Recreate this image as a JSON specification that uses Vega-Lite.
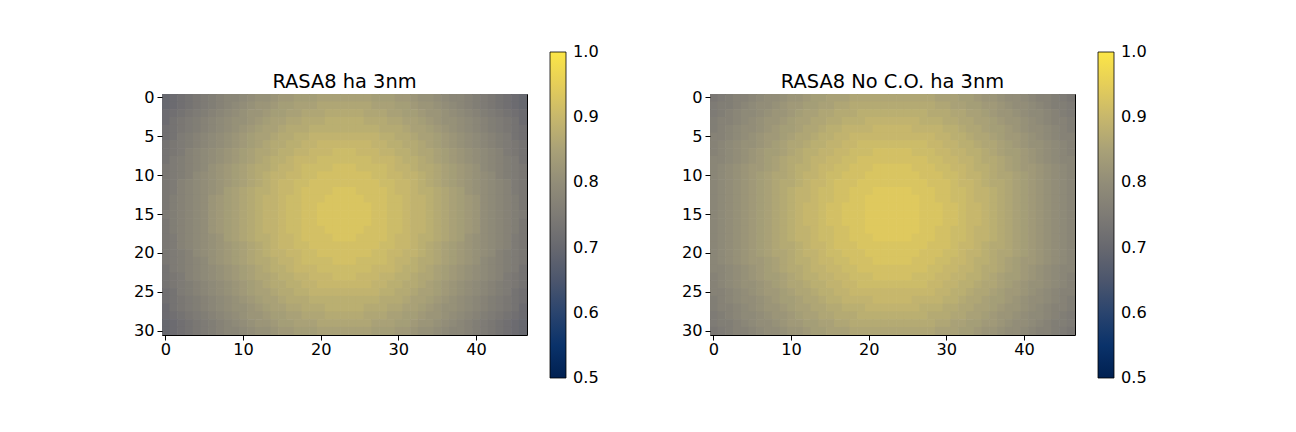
{
  "$schema": "https://vega.github.io/schema/vega-lite/v6.json",
  "background": "white",
  "padding": {"left": 132, "top": 51, "right": 5, "bottom": 5},
  "config": {
    "font": "DejaVu Sans",
    "view": {"stroke": "black", "strokeWidth": 1},
    "axis": {"domain": false, "grid": false, "tickColor": "black", "tickSize": 5, "tickWidth": 1, "labelFont": "DejaVu Sans", "labelFontSize": 16.2, "labelColor": "black", "labelPadding": 3},
    "axisX": {"labelPadding": 1.5},
    "title": {"font": "DejaVu Sans", "fontSize": 19.4, "fontWeight": "normal", "color": "black", "offset": -40},
    "legend": {"labelFont": "DejaVu Sans"}
  },
  "datasets": {
    "rasa8": [
      {"y":0,"x":[0,1,2,3,4,5,6,7,8,9,10,11,12,13,14,15,16,17,18,19,20,21,22,23,24,25,26,27,28,29,30,31,32,33,34,35,36,37,38,39,40,41,42,43,44,45,46],"v":[0.7,0.71,0.72,0.73,0.74,0.75,0.76,0.77,0.78,0.78,0.79,0.8,0.81,0.81,0.82,0.83,0.83,0.84,0.84,0.84,0.85,0.85,0.85,0.85,0.85,0.85,0.85,0.84,0.84,0.84,0.83,0.83,0.82,0.81,0.81,0.8,0.79,0.78,0.78,0.77,0.76,0.75,0.74,0.73,0.72,0.71,0.7]},
      {"y":1,"x":[0,1,2,3,4,5,6,7,8,9,10,11,12,13,14,15,16,17,18,19,20,21,22,23,24,25,26,27,28,29,30,31,32,33,34,35,36,37,38,39,40,41,42,43,44,45,46],"v":[0.7,0.71,0.72,0.73,0.74,0.75,0.76,0.77,0.78,0.79,0.8,0.81,0.82,0.82,0.83,0.84,0.84,0.85,0.85,0.85,0.86,0.86,0.86,0.86,0.86,0.86,0.86,0.85,0.85,0.85,0.84,0.84,0.83,0.82,0.82,0.81,0.8,0.79,0.78,0.77,0.76,0.75,0.74,0.73,0.72,0.71,0.7]},
      {"y":2,"x":[0,1,2,3,4,5,6,7,8,9,10,11,12,13,14,15,16,17,18,19,20,21,22,23,24,25,26,27,28,29,30,31,32,33,34,35,36,37,38,39,40,41,42,43,44,45,46],"v":[0.71,0.72,0.73,0.74,0.75,0.76,0.77,0.78,0.79,0.8,0.81,0.82,0.82,0.83,0.84,0.84,0.85,0.85,0.86,0.86,0.86,0.87,0.87,0.87,0.87,0.87,0.86,0.86,0.86,0.85,0.85,0.84,0.84,0.83,0.82,0.82,0.81,0.8,0.79,0.78,0.77,0.76,0.75,0.74,0.73,0.72,0.71]},
      {"y":3,"x":[0,1,2,3,4,5,6,7,8,9,10,11,12,13,14,15,16,17,18,19,20,21,22,23,24,25,26,27,28,29,30,31,32,33,34,35,36,37,38,39,40,41,42,43,44,45,46],"v":[0.71,0.73,0.74,0.75,0.76,0.77,0.78,0.79,0.8,0.81,0.81,0.82,0.83,0.84,0.85,0.85,0.86,0.86,0.87,0.87,0.87,0.88,0.88,0.88,0.88,0.88,0.87,0.87,0.87,0.86,0.86,0.85,0.85,0.84,0.83,0.82,0.81,0.81,0.8,0.79,0.78,0.77,0.76,0.75,0.74,0.73,0.71]},
      {"y":4,"x":[0,1,2,3,4,5,6,7,8,9,10,11,12,13,14,15,16,17,18,19,20,21,22,23,24,25,26,27,28,29,30,31,32,33,34,35,36,37,38,39,40,41,42,43,44,45,46],"v":[0.72,0.73,0.74,0.75,0.76,0.77,0.78,0.79,0.8,0.81,0.82,0.83,0.84,0.85,0.85,0.86,0.87,0.87,0.87,0.88,0.88,0.88,0.88,0.88,0.88,0.88,0.88,0.88,0.87,0.87,0.87,0.86,0.85,0.85,0.84,0.83,0.82,0.81,0.8,0.79,0.78,0.77,0.76,0.75,0.74,0.73,0.72]},
      {"y":5,"x":[0,1,2,3,4,5,6,7,8,9,10,11,12,13,14,15,16,17,18,19,20,21,22,23,24,25,26,27,28,29,30,31,32,33,34,35,36,37,38,39,40,41,42,43,44,45,46],"v":[0.72,0.73,0.75,0.76,0.77,0.78,0.79,0.8,0.81,0.82,0.83,0.84,0.85,0.85,0.86,0.87,0.87,0.88,0.88,0.89,0.89,0.89,0.89,0.89,0.89,0.89,0.89,0.89,0.88,0.88,0.87,0.87,0.86,0.85,0.85,0.84,0.83,0.82,0.81,0.8,0.79,0.78,0.77,0.76,0.75,0.73,0.72]},
      {"y":6,"x":[0,1,2,3,4,5,6,7,8,9,10,11,12,13,14,15,16,17,18,19,20,21,22,23,24,25,26,27,28,29,30,31,32,33,34,35,36,37,38,39,40,41,42,43,44,45,46],"v":[0.73,0.74,0.75,0.76,0.77,0.78,0.79,0.8,0.81,0.82,0.83,0.84,0.85,0.86,0.87,0.87,0.88,0.88,0.89,0.89,0.9,0.9,0.9,0.9,0.9,0.9,0.9,0.89,0.89,0.88,0.88,0.87,0.87,0.86,0.85,0.84,0.83,0.82,0.81,0.8,0.79,0.78,0.77,0.76,0.75,0.74,0.73]},
      {"y":7,"x":[0,1,2,3,4,5,6,7,8,9,10,11,12,13,14,15,16,17,18,19,20,21,22,23,24,25,26,27,28,29,30,31,32,33,34,35,36,37,38,39,40,41,42,43,44,45,46],"v":[0.73,0.74,0.75,0.77,0.78,0.79,0.8,0.81,0.82,0.83,0.84,0.85,0.86,0.86,0.87,0.88,0.88,0.89,0.89,0.9,0.9,0.9,0.91,0.91,0.91,0.9,0.9,0.9,0.89,0.89,0.88,0.88,0.87,0.86,0.86,0.85,0.84,0.83,0.82,0.81,0.8,0.79,0.78,0.77,0.75,0.74,0.73]},
      {"y":8,"x":[0,1,2,3,4,5,6,7,8,9,10,11,12,13,14,15,16,17,18,19,20,21,22,23,24,25,26,27,28,29,30,31,32,33,34,35,36,37,38,39,40,41,42,43,44,45,46],"v":[0.73,0.75,0.76,0.77,0.78,0.79,0.8,0.81,0.82,0.83,0.84,0.85,0.86,0.87,0.88,0.88,0.89,0.9,0.9,0.9,0.91,0.91,0.91,0.91,0.91,0.91,0.91,0.9,0.9,0.9,0.89,0.88,0.88,0.87,0.86,0.85,0.84,0.83,0.82,0.81,0.8,0.79,0.78,0.77,0.76,0.75,0.73]},
      {"y":9,"x":[0,1,2,3,4,5,6,7,8,9,10,11,12,13,14,15,16,17,18,19,20,21,22,23,24,25,26,27,28,29,30,31,32,33,34,35,36,37,38,39,40,41,42,43,44,45,46],"v":[0.74,0.75,0.76,0.77,0.78,0.79,0.81,0.82,0.83,0.84,0.85,0.86,0.87,0.87,0.88,0.89,0.89,0.9,0.91,0.91,0.91,0.91,0.92,0.92,0.92,0.91,0.91,0.91,0.91,0.9,0.89,0.89,0.88,0.87,0.87,0.86,0.85,0.84,0.83,0.82,0.81,0.79,0.78,0.77,0.76,0.75,0.74]},
      {"y":10,"x":[0,1,2,3,4,5,6,7,8,9,10,11,12,13,14,15,16,17,18,19,20,21,22,23,24,25,26,27,28,29,30,31,32,33,34,35,36,37,38,39,40,41,42,43,44,45,46],"v":[0.74,0.75,0.76,0.77,0.79,0.8,0.81,0.82,0.83,0.84,0.85,0.86,0.87,0.88,0.89,0.89,0.9,0.9,0.91,0.91,0.92,0.92,0.92,0.92,0.92,0.92,0.92,0.91,0.91,0.9,0.9,0.89,0.89,0.88,0.87,0.86,0.85,0.84,0.83,0.82,0.81,0.8,0.79,0.77,0.76,0.75,0.74]},
      {"y":11,"x":[0,1,2,3,4,5,6,7,8,9,10,11,12,13,14,15,16,17,18,19,20,21,22,23,24,25,26,27,28,29,30,31,32,33,34,35,36,37,38,39,40,41,42,43,44,45,46],"v":[0.74,0.75,0.77,0.78,0.79,0.8,0.81,0.82,0.83,0.84,0.85,0.86,0.87,0.88,0.89,0.9,0.9,0.91,0.91,0.92,0.92,0.92,0.92,0.92,0.92,0.92,0.92,0.92,0.91,0.91,0.9,0.9,0.89,0.88,0.87,0.86,0.85,0.84,0.83,0.82,0.81,0.8,0.79,0.78,0.77,0.75,0.74]},
      {"y":12,"x":[0,1,2,3,4,5,6,7,8,9,10,11,12,13,14,15,16,17,18,19,20,21,22,23,24,25,26,27,28,29,30,31,32,33,34,35,36,37,38,39,40,41,42,43,44,45,46],"v":[0.74,0.75,0.77,0.78,0.79,0.8,0.81,0.82,0.84,0.85,0.86,0.87,0.88,0.88,0.89,0.9,0.9,0.91,0.92,0.92,0.92,0.92,0.93,0.93,0.93,0.92,0.92,0.92,0.92,0.91,0.9,0.9,0.89,0.88,0.88,0.87,0.86,0.85,0.84,0.82,0.81,0.8,0.79,0.78,0.77,0.75,0.74]},
      {"y":13,"x":[0,1,2,3,4,5,6,7,8,9,10,11,12,13,14,15,16,17,18,19,20,21,22,23,24,25,26,27,28,29,30,31,32,33,34,35,36,37,38,39,40,41,42,43,44,45,46],"v":[0.74,0.76,0.77,0.78,0.79,0.8,0.82,0.83,0.84,0.85,0.86,0.87,0.88,0.89,0.89,0.9,0.91,0.91,0.92,0.92,0.92,0.93,0.93,0.93,0.93,0.93,0.92,0.92,0.92,0.91,0.91,0.9,0.89,0.89,0.88,0.87,0.86,0.85,0.84,0.83,0.82,0.8,0.79,0.78,0.77,0.76,0.74]},
      {"y":14,"x":[0,1,2,3,4,5,6,7,8,9,10,11,12,13,14,15,16,17,18,19,20,21,22,23,24,25,26,27,28,29,30,31,32,33,34,35,36,37,38,39,40,41,42,43,44,45,46],"v":[0.74,0.76,0.77,0.78,0.79,0.8,0.82,0.83,0.84,0.85,0.86,0.87,0.88,0.89,0.89,0.9,0.91,0.91,0.92,0.92,0.93,0.93,0.93,0.93,0.93,0.93,0.93,0.92,0.92,0.91,0.91,0.9,0.89,0.89,0.88,0.87,0.86,0.85,0.84,0.83,0.82,0.8,0.79,0.78,0.77,0.76,0.74]},
      {"y":15,"x":[0,1,2,3,4,5,6,7,8,9,10,11,12,13,14,15,16,17,18,19,20,21,22,23,24,25,26,27,28,29,30,31,32,33,34,35,36,37,38,39,40,41,42,43,44,45,46],"v":[0.75,0.76,0.77,0.78,0.79,0.8,0.82,0.83,0.84,0.85,0.86,0.87,0.88,0.89,0.89,0.9,0.91,0.91,0.92,0.92,0.93,0.93,0.93,0.93,0.93,0.93,0.93,0.92,0.92,0.91,0.91,0.9,0.89,0.89,0.88,0.87,0.86,0.85,0.84,0.83,0.82,0.8,0.79,0.78,0.77,0.76,0.75]},
      {"y":16,"x":[0,1,2,3,4,5,6,7,8,9,10,11,12,13,14,15,16,17,18,19,20,21,22,23,24,25,26,27,28,29,30,31,32,33,34,35,36,37,38,39,40,41,42,43,44,45,46],"v":[0.74,0.76,0.77,0.78,0.79,0.8,0.82,0.83,0.84,0.85,0.86,0.87,0.88,0.89,0.89,0.9,0.91,0.91,0.92,0.92,0.93,0.93,0.93,0.93,0.93,0.93,0.93,0.92,0.92,0.91,0.91,0.9,0.89,0.89,0.88,0.87,0.86,0.85,0.84,0.83,0.82,0.8,0.79,0.78,0.77,0.76,0.74]},
      {"y":17,"x":[0,1,2,3,4,5,6,7,8,9,10,11,12,13,14,15,16,17,18,19,20,21,22,23,24,25,26,27,28,29,30,31,32,33,34,35,36,37,38,39,40,41,42,43,44,45,46],"v":[0.74,0.76,0.77,0.78,0.79,0.8,0.82,0.83,0.84,0.85,0.86,0.87,0.88,0.89,0.89,0.9,0.91,0.91,0.92,0.92,0.92,0.93,0.93,0.93,0.93,0.93,0.92,0.92,0.92,0.91,0.91,0.9,0.89,0.89,0.88,0.87,0.86,0.85,0.84,0.83,0.82,0.8,0.79,0.78,0.77,0.76,0.74]},
      {"y":18,"x":[0,1,2,3,4,5,6,7,8,9,10,11,12,13,14,15,16,17,18,19,20,21,22,23,24,25,26,27,28,29,30,31,32,33,34,35,36,37,38,39,40,41,42,43,44,45,46],"v":[0.74,0.75,0.77,0.78,0.79,0.8,0.81,0.82,0.84,0.85,0.86,0.87,0.88,0.88,0.89,0.9,0.9,0.91,0.92,0.92,0.92,0.92,0.93,0.93,0.93,0.92,0.92,0.92,0.92,0.91,0.9,0.9,0.89,0.88,0.88,0.87,0.86,0.85,0.84,0.82,0.81,0.8,0.79,0.78,0.77,0.75,0.74]},
      {"y":19,"x":[0,1,2,3,4,5,6,7,8,9,10,11,12,13,14,15,16,17,18,19,20,21,22,23,24,25,26,27,28,29,30,31,32,33,34,35,36,37,38,39,40,41,42,43,44,45,46],"v":[0.74,0.75,0.77,0.78,0.79,0.8,0.81,0.82,0.83,0.84,0.85,0.86,0.87,0.88,0.89,0.9,0.9,0.91,0.91,0.92,0.92,0.92,0.92,0.92,0.92,0.92,0.92,0.92,0.91,0.91,0.9,0.9,0.89,0.88,0.87,0.86,0.85,0.84,0.83,0.82,0.81,0.8,0.79,0.78,0.77,0.75,0.74]},
      {"y":20,"x":[0,1,2,3,4,5,6,7,8,9,10,11,12,13,14,15,16,17,18,19,20,21,22,23,24,25,26,27,28,29,30,31,32,33,34,35,36,37,38,39,40,41,42,43,44,45,46],"v":[0.74,0.75,0.76,0.77,0.79,0.8,0.81,0.82,0.83,0.84,0.85,0.86,0.87,0.88,0.89,0.89,0.9,0.9,0.91,0.91,0.92,0.92,0.92,0.92,0.92,0.92,0.92,0.91,0.91,0.9,0.9,0.89,0.89,0.88,0.87,0.86,0.85,0.84,0.83,0.82,0.81,0.8,0.79,0.77,0.76,0.75,0.74]},
      {"y":21,"x":[0,1,2,3,4,5,6,7,8,9,10,11,12,13,14,15,16,17,18,19,20,21,22,23,24,25,26,27,28,29,30,31,32,33,34,35,36,37,38,39,40,41,42,43,44,45,46],"v":[0.74,0.75,0.76,0.77,0.78,0.79,0.81,0.82,0.83,0.84,0.85,0.86,0.87,0.87,0.88,0.89,0.89,0.9,0.91,0.91,0.91,0.91,0.92,0.92,0.92,0.91,0.91,0.91,0.91,0.9,0.89,0.89,0.88,0.87,0.87,0.86,0.85,0.84,0.83,0.82,0.81,0.79,0.78,0.77,0.76,0.75,0.74]},
      {"y":22,"x":[0,1,2,3,4,5,6,7,8,9,10,11,12,13,14,15,16,17,18,19,20,21,22,23,24,25,26,27,28,29,30,31,32,33,34,35,36,37,38,39,40,41,42,43,44,45,46],"v":[0.73,0.75,0.76,0.77,0.78,0.79,0.8,0.81,0.82,0.83,0.84,0.85,0.86,0.87,0.88,0.88,0.89,0.9,0.9,0.9,0.91,0.91,0.91,0.91,0.91,0.91,0.91,0.9,0.9,0.9,0.89,0.88,0.88,0.87,0.86,0.85,0.84,0.83,0.82,0.81,0.8,0.79,0.78,0.77,0.76,0.75,0.73]},
      {"y":23,"x":[0,1,2,3,4,5,6,7,8,9,10,11,12,13,14,15,16,17,18,19,20,21,22,23,24,25,26,27,28,29,30,31,32,33,34,35,36,37,38,39,40,41,42,43,44,45,46],"v":[0.73,0.74,0.75,0.77,0.78,0.79,0.8,0.81,0.82,0.83,0.84,0.85,0.86,0.86,0.87,0.88,0.88,0.89,0.89,0.9,0.9,0.9,0.91,0.91,0.91,0.9,0.9,0.9,0.89,0.89,0.88,0.88,0.87,0.86,0.86,0.85,0.84,0.83,0.82,0.81,0.8,0.79,0.78,0.77,0.75,0.74,0.73]},
      {"y":24,"x":[0,1,2,3,4,5,6,7,8,9,10,11,12,13,14,15,16,17,18,19,20,21,22,23,24,25,26,27,28,29,30,31,32,33,34,35,36,37,38,39,40,41,42,43,44,45,46],"v":[0.73,0.74,0.75,0.76,0.77,0.78,0.79,0.8,0.81,0.82,0.83,0.84,0.85,0.86,0.87,0.87,0.88,0.88,0.89,0.89,0.9,0.9,0.9,0.9,0.9,0.9,0.9,0.89,0.89,0.88,0.88,0.87,0.87,0.86,0.85,0.84,0.83,0.82,0.81,0.8,0.79,0.78,0.77,0.76,0.75,0.74,0.73]},
      {"y":25,"x":[0,1,2,3,4,5,6,7,8,9,10,11,12,13,14,15,16,17,18,19,20,21,22,23,24,25,26,27,28,29,30,31,32,33,34,35,36,37,38,39,40,41,42,43,44,45,46],"v":[0.72,0.73,0.75,0.76,0.77,0.78,0.79,0.8,0.81,0.82,0.83,0.84,0.85,0.85,0.86,0.87,0.87,0.88,0.88,0.89,0.89,0.89,0.89,0.89,0.89,0.89,0.89,0.89,0.88,0.88,0.87,0.87,0.86,0.85,0.85,0.84,0.83,0.82,0.81,0.8,0.79,0.78,0.77,0.76,0.75,0.73,0.72]},
      {"y":26,"x":[0,1,2,3,4,5,6,7,8,9,10,11,12,13,14,15,16,17,18,19,20,21,22,23,24,25,26,27,28,29,30,31,32,33,34,35,36,37,38,39,40,41,42,43,44,45,46],"v":[0.72,0.73,0.74,0.75,0.76,0.77,0.78,0.79,0.8,0.81,0.82,0.83,0.84,0.85,0.85,0.86,0.87,0.87,0.87,0.88,0.88,0.88,0.88,0.88,0.88,0.88,0.88,0.88,0.87,0.87,0.87,0.86,0.85,0.85,0.84,0.83,0.82,0.81,0.8,0.79,0.78,0.77,0.76,0.75,0.74,0.73,0.72]},
      {"y":27,"x":[0,1,2,3,4,5,6,7,8,9,10,11,12,13,14,15,16,17,18,19,20,21,22,23,24,25,26,27,28,29,30,31,32,33,34,35,36,37,38,39,40,41,42,43,44,45,46],"v":[0.71,0.73,0.74,0.75,0.76,0.77,0.78,0.79,0.8,0.81,0.81,0.82,0.83,0.84,0.85,0.85,0.86,0.86,0.87,0.87,0.87,0.88,0.88,0.88,0.88,0.88,0.87,0.87,0.87,0.86,0.86,0.85,0.85,0.84,0.83,0.82,0.81,0.81,0.8,0.79,0.78,0.77,0.76,0.75,0.74,0.73,0.71]},
      {"y":28,"x":[0,1,2,3,4,5,6,7,8,9,10,11,12,13,14,15,16,17,18,19,20,21,22,23,24,25,26,27,28,29,30,31,32,33,34,35,36,37,38,39,40,41,42,43,44,45,46],"v":[0.71,0.72,0.73,0.74,0.75,0.76,0.77,0.78,0.79,0.8,0.81,0.82,0.82,0.83,0.84,0.84,0.85,0.85,0.86,0.86,0.86,0.87,0.87,0.87,0.87,0.87,0.86,0.86,0.86,0.85,0.85,0.84,0.84,0.83,0.82,0.82,0.81,0.8,0.79,0.78,0.77,0.76,0.75,0.74,0.73,0.72,0.71]},
      {"y":29,"x":[0,1,2,3,4,5,6,7,8,9,10,11,12,13,14,15,16,17,18,19,20,21,22,23,24,25,26,27,28,29,30,31,32,33,34,35,36,37,38,39,40,41,42,43,44,45,46],"v":[0.7,0.71,0.72,0.73,0.74,0.75,0.76,0.77,0.78,0.79,0.8,0.81,0.82,0.82,0.83,0.84,0.84,0.85,0.85,0.85,0.86,0.86,0.86,0.86,0.86,0.86,0.86,0.85,0.85,0.85,0.84,0.84,0.83,0.82,0.82,0.81,0.8,0.79,0.78,0.77,0.76,0.75,0.74,0.73,0.72,0.71,0.7]},
      {"y":30,"x":[0,1,2,3,4,5,6,7,8,9,10,11,12,13,14,15,16,17,18,19,20,21,22,23,24,25,26,27,28,29,30,31,32,33,34,35,36,37,38,39,40,41,42,43,44,45,46],"v":[0.7,0.71,0.72,0.73,0.74,0.75,0.76,0.77,0.78,0.78,0.79,0.8,0.81,0.81,0.82,0.83,0.83,0.84,0.84,0.84,0.85,0.85,0.85,0.85,0.85,0.85,0.85,0.84,0.84,0.84,0.83,0.83,0.82,0.81,0.81,0.8,0.79,0.78,0.78,0.77,0.76,0.75,0.74,0.73,0.72,0.71,0.7]}
    ],
    "rasa8_noco": [
      {"y":0,"x":[0,1,2,3,4,5,6,7,8,9,10,11,12,13,14,15,16,17,18,19,20,21,22,23,24,25,26,27,28,29,30,31,32,33,34,35,36,37,38,39,40,41,42,43,44,45,46],"v":[0.74,0.75,0.76,0.77,0.77,0.78,0.79,0.8,0.8,0.81,0.82,0.82,0.83,0.84,0.84,0.85,0.85,0.85,0.86,0.86,0.86,0.86,0.86,0.86,0.86,0.86,0.86,0.86,0.86,0.85,0.85,0.85,0.84,0.84,0.83,0.82,0.82,0.81,0.8,0.8,0.79,0.78,0.77,0.77,0.76,0.75,0.74]},
      {"y":1,"x":[0,1,2,3,4,5,6,7,8,9,10,11,12,13,14,15,16,17,18,19,20,21,22,23,24,25,26,27,28,29,30,31,32,33,34,35,36,37,38,39,40,41,42,43,44,45,46],"v":[0.75,0.76,0.76,0.77,0.78,0.79,0.8,0.8,0.81,0.82,0.83,0.83,0.84,0.84,0.85,0.85,0.86,0.86,0.87,0.87,0.87,0.87,0.87,0.87,0.87,0.87,0.87,0.87,0.87,0.86,0.86,0.85,0.85,0.84,0.84,0.83,0.83,0.82,0.81,0.8,0.8,0.79,0.78,0.77,0.76,0.76,0.75]},
      {"y":2,"x":[0,1,2,3,4,5,6,7,8,9,10,11,12,13,14,15,16,17,18,19,20,21,22,23,24,25,26,27,28,29,30,31,32,33,34,35,36,37,38,39,40,41,42,43,44,45,46],"v":[0.75,0.76,0.77,0.78,0.79,0.79,0.8,0.81,0.82,0.82,0.83,0.84,0.85,0.85,0.86,0.86,0.87,0.87,0.87,0.88,0.88,0.88,0.88,0.88,0.88,0.88,0.88,0.88,0.87,0.87,0.87,0.86,0.86,0.85,0.85,0.84,0.83,0.82,0.82,0.81,0.8,0.79,0.79,0.78,0.77,0.76,0.75]},
      {"y":3,"x":[0,1,2,3,4,5,6,7,8,9,10,11,12,13,14,15,16,17,18,19,20,21,22,23,24,25,26,27,28,29,30,31,32,33,34,35,36,37,38,39,40,41,42,43,44,45,46],"v":[0.76,0.77,0.77,0.78,0.79,0.8,0.81,0.82,0.82,0.83,0.84,0.85,0.85,0.86,0.86,0.87,0.87,0.88,0.88,0.88,0.89,0.89,0.89,0.89,0.89,0.89,0.89,0.88,0.88,0.88,0.87,0.87,0.86,0.86,0.85,0.85,0.84,0.83,0.82,0.82,0.81,0.8,0.79,0.78,0.77,0.77,0.76]},
      {"y":4,"x":[0,1,2,3,4,5,6,7,8,9,10,11,12,13,14,15,16,17,18,19,20,21,22,23,24,25,26,27,28,29,30,31,32,33,34,35,36,37,38,39,40,41,42,43,44,45,46],"v":[0.76,0.77,0.78,0.79,0.8,0.8,0.81,0.82,0.83,0.84,0.84,0.85,0.86,0.86,0.87,0.88,0.88,0.89,0.89,0.89,0.89,0.9,0.9,0.9,0.9,0.9,0.89,0.89,0.89,0.89,0.88,0.88,0.87,0.86,0.86,0.85,0.84,0.84,0.83,0.82,0.81,0.8,0.8,0.79,0.78,0.77,0.76]},
      {"y":5,"x":[0,1,2,3,4,5,6,7,8,9,10,11,12,13,14,15,16,17,18,19,20,21,22,23,24,25,26,27,28,29,30,31,32,33,34,35,36,37,38,39,40,41,42,43,44,45,46],"v":[0.77,0.77,0.78,0.79,0.8,0.81,0.82,0.83,0.83,0.84,0.85,0.86,0.86,0.87,0.88,0.88,0.89,0.89,0.9,0.9,0.9,0.9,0.9,0.9,0.9,0.9,0.9,0.9,0.9,0.89,0.89,0.88,0.88,0.87,0.86,0.86,0.85,0.84,0.83,0.83,0.82,0.81,0.8,0.79,0.78,0.77,0.77]},
      {"y":6,"x":[0,1,2,3,4,5,6,7,8,9,10,11,12,13,14,15,16,17,18,19,20,21,22,23,24,25,26,27,28,29,30,31,32,33,34,35,36,37,38,39,40,41,42,43,44,45,46],"v":[0.77,0.78,0.79,0.8,0.81,0.81,0.82,0.83,0.84,0.85,0.86,0.86,0.87,0.88,0.88,0.89,0.89,0.9,0.9,0.91,0.91,0.91,0.91,0.91,0.91,0.91,0.91,0.91,0.9,0.9,0.89,0.89,0.88,0.88,0.87,0.86,0.86,0.85,0.84,0.83,0.82,0.81,0.81,0.8,0.79,0.78,0.77]},
      {"y":7,"x":[0,1,2,3,4,5,6,7,8,9,10,11,12,13,14,15,16,17,18,19,20,21,22,23,24,25,26,27,28,29,30,31,32,33,34,35,36,37,38,39,40,41,42,43,44,45,46],"v":[0.77,0.78,0.79,0.8,0.81,0.82,0.83,0.84,0.84,0.85,0.86,0.87,0.88,0.88,0.89,0.89,0.9,0.9,0.91,0.91,0.91,0.92,0.92,0.92,0.92,0.92,0.91,0.91,0.91,0.9,0.9,0.89,0.89,0.88,0.88,0.87,0.86,0.85,0.84,0.84,0.83,0.82,0.81,0.8,0.79,0.78,0.77]},
      {"y":8,"x":[0,1,2,3,4,5,6,7,8,9,10,11,12,13,14,15,16,17,18,19,20,21,22,23,24,25,26,27,28,29,30,31,32,33,34,35,36,37,38,39,40,41,42,43,44,45,46],"v":[0.78,0.78,0.79,0.8,0.81,0.82,0.83,0.84,0.85,0.86,0.87,0.87,0.88,0.89,0.89,0.9,0.9,0.91,0.91,0.92,0.92,0.92,0.92,0.92,0.92,0.92,0.92,0.92,0.91,0.91,0.9,0.9,0.89,0.89,0.88,0.87,0.87,0.86,0.85,0.84,0.83,0.82,0.81,0.8,0.79,0.78,0.78]},
      {"y":9,"x":[0,1,2,3,4,5,6,7,8,9,10,11,12,13,14,15,16,17,18,19,20,21,22,23,24,25,26,27,28,29,30,31,32,33,34,35,36,37,38,39,40,41,42,43,44,45,46],"v":[0.78,0.79,0.8,0.81,0.82,0.83,0.83,0.84,0.85,0.86,0.87,0.88,0.88,0.89,0.9,0.9,0.91,0.91,0.92,0.92,0.92,0.93,0.93,0.93,0.93,0.93,0.92,0.92,0.92,0.91,0.91,0.9,0.9,0.89,0.88,0.88,0.87,0.86,0.85,0.84,0.83,0.83,0.82,0.81,0.8,0.79,0.78]},
      {"y":10,"x":[0,1,2,3,4,5,6,7,8,9,10,11,12,13,14,15,16,17,18,19,20,21,22,23,24,25,26,27,28,29,30,31,32,33,34,35,36,37,38,39,40,41,42,43,44,45,46],"v":[0.78,0.79,0.8,0.81,0.82,0.83,0.84,0.85,0.86,0.86,0.87,0.88,0.89,0.89,0.9,0.91,0.91,0.92,0.92,0.92,0.93,0.93,0.93,0.93,0.93,0.93,0.93,0.92,0.92,0.92,0.91,0.91,0.9,0.89,0.89,0.88,0.87,0.86,0.86,0.85,0.84,0.83,0.82,0.81,0.8,0.79,0.78]},
      {"y":11,"x":[0,1,2,3,4,5,6,7,8,9,10,11,12,13,14,15,16,17,18,19,20,21,22,23,24,25,26,27,28,29,30,31,32,33,34,35,36,37,38,39,40,41,42,43,44,45,46],"v":[0.78,0.79,0.8,0.81,0.82,0.83,0.84,0.85,0.86,0.87,0.87,0.88,0.89,0.9,0.9,0.91,0.92,0.92,0.92,0.93,0.93,0.93,0.93,0.93,0.93,0.93,0.93,0.93,0.92,0.92,0.92,0.91,0.9,0.9,0.89,0.88,0.87,0.87,0.86,0.85,0.84,0.83,0.82,0.81,0.8,0.79,0.78]},
      {"y":12,"x":[0,1,2,3,4,5,6,7,8,9,10,11,12,13,14,15,16,17,18,19,20,21,22,23,24,25,26,27,28,29,30,31,32,33,34,35,36,37,38,39,40,41,42,43,44,45,46],"v":[0.78,0.79,0.8,0.81,0.82,0.83,0.84,0.85,0.86,0.87,0.88,0.89,0.89,0.9,0.91,0.91,0.92,0.92,0.93,0.93,0.93,0.94,0.94,0.94,0.94,0.94,0.93,0.93,0.93,0.92,0.92,0.91,0.91,0.9,0.89,0.89,0.88,0.87,0.86,0.85,0.84,0.83,0.82,0.81,0.8,0.79,0.78]},
      {"y":13,"x":[0,1,2,3,4,5,6,7,8,9,10,11,12,13,14,15,16,17,18,19,20,21,22,23,24,25,26,27,28,29,30,31,32,33,34,35,36,37,38,39,40,41,42,43,44,45,46],"v":[0.78,0.79,0.8,0.81,0.82,0.83,0.84,0.85,0.86,0.87,0.88,0.89,0.89,0.9,0.91,0.91,0.92,0.92,0.93,0.93,0.94,0.94,0.94,0.94,0.94,0.94,0.94,0.93,0.93,0.92,0.92,0.91,0.91,0.9,0.89,0.89,0.88,0.87,0.86,0.85,0.84,0.83,0.82,0.81,0.8,0.79,0.78]},
      {"y":14,"x":[0,1,2,3,4,5,6,7,8,9,10,11,12,13,14,15,16,17,18,19,20,21,22,23,24,25,26,27,28,29,30,31,32,33,34,35,36,37,38,39,40,41,42,43,44,45,46],"v":[0.78,0.79,0.8,0.81,0.82,0.83,0.84,0.85,0.86,0.87,0.88,0.89,0.9,0.9,0.91,0.92,0.92,0.93,0.93,0.93,0.94,0.94,0.94,0.94,0.94,0.94,0.94,0.93,0.93,0.93,0.92,0.92,0.91,0.9,0.9,0.89,0.88,0.87,0.86,0.85,0.84,0.83,0.82,0.81,0.8,0.79,0.78]},
      {"y":15,"x":[0,1,2,3,4,5,6,7,8,9,10,11,12,13,14,15,16,17,18,19,20,21,22,23,24,25,26,27,28,29,30,31,32,33,34,35,36,37,38,39,40,41,42,43,44,45,46],"v":[0.78,0.79,0.8,0.81,0.82,0.83,0.84,0.85,0.86,0.87,0.88,0.89,0.9,0.9,0.91,0.92,0.92,0.93,0.93,0.93,0.94,0.94,0.94,0.94,0.94,0.94,0.94,0.93,0.93,0.93,0.92,0.92,0.91,0.9,0.9,0.89,0.88,0.87,0.86,0.85,0.84,0.83,0.82,0.81,0.8,0.79,0.78]},
      {"y":16,"x":[0,1,2,3,4,5,6,7,8,9,10,11,12,13,14,15,16,17,18,19,20,21,22,23,24,25,26,27,28,29,30,31,32,33,34,35,36,37,38,39,40,41,42,43,44,45,46],"v":[0.78,0.79,0.8,0.81,0.82,0.83,0.84,0.85,0.86,0.87,0.88,0.89,0.9,0.9,0.91,0.92,0.92,0.93,0.93,0.93,0.94,0.94,0.94,0.94,0.94,0.94,0.94,0.93,0.93,0.93,0.92,0.92,0.91,0.9,0.9,0.89,0.88,0.87,0.86,0.85,0.84,0.83,0.82,0.81,0.8,0.79,0.78]},
      {"y":17,"x":[0,1,2,3,4,5,6,7,8,9,10,11,12,13,14,15,16,17,18,19,20,21,22,23,24,25,26,27,28,29,30,31,32,33,34,35,36,37,38,39,40,41,42,43,44,45,46],"v":[0.78,0.79,0.8,0.81,0.82,0.83,0.84,0.85,0.86,0.87,0.88,0.89,0.89,0.9,0.91,0.91,0.92,0.92,0.93,0.93,0.94,0.94,0.94,0.94,0.94,0.94,0.94,0.93,0.93,0.92,0.92,0.91,0.91,0.9,0.89,0.89,0.88,0.87,0.86,0.85,0.84,0.83,0.82,0.81,0.8,0.79,0.78]},
      {"y":18,"x":[0,1,2,3,4,5,6,7,8,9,10,11,12,13,14,15,16,17,18,19,20,21,22,23,24,25,26,27,28,29,30,31,32,33,34,35,36,37,38,39,40,41,42,43,44,45,46],"v":[0.78,0.79,0.8,0.81,0.82,0.83,0.84,0.85,0.86,0.87,0.88,0.89,0.89,0.9,0.91,0.91,0.92,0.92,0.93,0.93,0.93,0.94,0.94,0.94,0.94,0.94,0.93,0.93,0.93,0.92,0.92,0.91,0.91,0.9,0.89,0.89,0.88,0.87,0.86,0.85,0.84,0.83,0.82,0.81,0.8,0.79,0.78]},
      {"y":19,"x":[0,1,2,3,4,5,6,7,8,9,10,11,12,13,14,15,16,17,18,19,20,21,22,23,24,25,26,27,28,29,30,31,32,33,34,35,36,37,38,39,40,41,42,43,44,45,46],"v":[0.78,0.79,0.8,0.81,0.82,0.83,0.84,0.85,0.86,0.87,0.87,0.88,0.89,0.9,0.9,0.91,0.92,0.92,0.92,0.93,0.93,0.93,0.93,0.93,0.93,0.93,0.93,0.93,0.92,0.92,0.92,0.91,0.9,0.9,0.89,0.88,0.87,0.87,0.86,0.85,0.84,0.83,0.82,0.81,0.8,0.79,0.78]},
      {"y":20,"x":[0,1,2,3,4,5,6,7,8,9,10,11,12,13,14,15,16,17,18,19,20,21,22,23,24,25,26,27,28,29,30,31,32,33,34,35,36,37,38,39,40,41,42,43,44,45,46],"v":[0.78,0.79,0.8,0.81,0.82,0.83,0.84,0.85,0.86,0.86,0.87,0.88,0.89,0.89,0.9,0.91,0.91,0.92,0.92,0.92,0.93,0.93,0.93,0.93,0.93,0.93,0.93,0.92,0.92,0.92,0.91,0.91,0.9,0.89,0.89,0.88,0.87,0.86,0.86,0.85,0.84,0.83,0.82,0.81,0.8,0.79,0.78]},
      {"y":21,"x":[0,1,2,3,4,5,6,7,8,9,10,11,12,13,14,15,16,17,18,19,20,21,22,23,24,25,26,27,28,29,30,31,32,33,34,35,36,37,38,39,40,41,42,43,44,45,46],"v":[0.78,0.79,0.8,0.81,0.82,0.83,0.83,0.84,0.85,0.86,0.87,0.88,0.88,0.89,0.9,0.9,0.91,0.91,0.92,0.92,0.92,0.93,0.93,0.93,0.93,0.93,0.92,0.92,0.92,0.91,0.91,0.9,0.9,0.89,0.88,0.88,0.87,0.86,0.85,0.84,0.83,0.83,0.82,0.81,0.8,0.79,0.78]},
      {"y":22,"x":[0,1,2,3,4,5,6,7,8,9,10,11,12,13,14,15,16,17,18,19,20,21,22,23,24,25,26,27,28,29,30,31,32,33,34,35,36,37,38,39,40,41,42,43,44,45,46],"v":[0.78,0.78,0.79,0.8,0.81,0.82,0.83,0.84,0.85,0.86,0.87,0.87,0.88,0.89,0.89,0.9,0.9,0.91,0.91,0.92,0.92,0.92,0.92,0.92,0.92,0.92,0.92,0.92,0.91,0.91,0.9,0.9,0.89,0.89,0.88,0.87,0.87,0.86,0.85,0.84,0.83,0.82,0.81,0.8,0.79,0.78,0.78]},
      {"y":23,"x":[0,1,2,3,4,5,6,7,8,9,10,11,12,13,14,15,16,17,18,19,20,21,22,23,24,25,26,27,28,29,30,31,32,33,34,35,36,37,38,39,40,41,42,43,44,45,46],"v":[0.77,0.78,0.79,0.8,0.81,0.82,0.83,0.84,0.84,0.85,0.86,0.87,0.88,0.88,0.89,0.89,0.9,0.9,0.91,0.91,0.91,0.92,0.92,0.92,0.92,0.92,0.91,0.91,0.91,0.9,0.9,0.89,0.89,0.88,0.88,0.87,0.86,0.85,0.84,0.84,0.83,0.82,0.81,0.8,0.79,0.78,0.77]},
      {"y":24,"x":[0,1,2,3,4,5,6,7,8,9,10,11,12,13,14,15,16,17,18,19,20,21,22,23,24,25,26,27,28,29,30,31,32,33,34,35,36,37,38,39,40,41,42,43,44,45,46],"v":[0.77,0.78,0.79,0.8,0.81,0.81,0.82,0.83,0.84,0.85,0.86,0.86,0.87,0.88,0.88,0.89,0.89,0.9,0.9,0.91,0.91,0.91,0.91,0.91,0.91,0.91,0.91,0.91,0.9,0.9,0.89,0.89,0.88,0.88,0.87,0.86,0.86,0.85,0.84,0.83,0.82,0.81,0.81,0.8,0.79,0.78,0.77]},
      {"y":25,"x":[0,1,2,3,4,5,6,7,8,9,10,11,12,13,14,15,16,17,18,19,20,21,22,23,24,25,26,27,28,29,30,31,32,33,34,35,36,37,38,39,40,41,42,43,44,45,46],"v":[0.77,0.77,0.78,0.79,0.8,0.81,0.82,0.83,0.83,0.84,0.85,0.86,0.86,0.87,0.88,0.88,0.89,0.89,0.9,0.9,0.9,0.9,0.9,0.9,0.9,0.9,0.9,0.9,0.9,0.89,0.89,0.88,0.88,0.87,0.86,0.86,0.85,0.84,0.83,0.83,0.82,0.81,0.8,0.79,0.78,0.77,0.77]},
      {"y":26,"x":[0,1,2,3,4,5,6,7,8,9,10,11,12,13,14,15,16,17,18,19,20,21,22,23,24,25,26,27,28,29,30,31,32,33,34,35,36,37,38,39,40,41,42,43,44,45,46],"v":[0.76,0.77,0.78,0.79,0.8,0.8,0.81,0.82,0.83,0.84,0.84,0.85,0.86,0.86,0.87,0.88,0.88,0.89,0.89,0.89,0.89,0.9,0.9,0.9,0.9,0.9,0.89,0.89,0.89,0.89,0.88,0.88,0.87,0.86,0.86,0.85,0.84,0.84,0.83,0.82,0.81,0.8,0.8,0.79,0.78,0.77,0.76]},
      {"y":27,"x":[0,1,2,3,4,5,6,7,8,9,10,11,12,13,14,15,16,17,18,19,20,21,22,23,24,25,26,27,28,29,30,31,32,33,34,35,36,37,38,39,40,41,42,43,44,45,46],"v":[0.76,0.77,0.77,0.78,0.79,0.8,0.81,0.82,0.82,0.83,0.84,0.85,0.85,0.86,0.86,0.87,0.87,0.88,0.88,0.88,0.89,0.89,0.89,0.89,0.89,0.89,0.89,0.88,0.88,0.88,0.87,0.87,0.86,0.86,0.85,0.85,0.84,0.83,0.82,0.82,0.81,0.8,0.79,0.78,0.77,0.77,0.76]},
      {"y":28,"x":[0,1,2,3,4,5,6,7,8,9,10,11,12,13,14,15,16,17,18,19,20,21,22,23,24,25,26,27,28,29,30,31,32,33,34,35,36,37,38,39,40,41,42,43,44,45,46],"v":[0.75,0.76,0.77,0.78,0.79,0.79,0.8,0.81,0.82,0.82,0.83,0.84,0.85,0.85,0.86,0.86,0.87,0.87,0.87,0.88,0.88,0.88,0.88,0.88,0.88,0.88,0.88,0.88,0.87,0.87,0.87,0.86,0.86,0.85,0.85,0.84,0.83,0.82,0.82,0.81,0.8,0.79,0.79,0.78,0.77,0.76,0.75]},
      {"y":29,"x":[0,1,2,3,4,5,6,7,8,9,10,11,12,13,14,15,16,17,18,19,20,21,22,23,24,25,26,27,28,29,30,31,32,33,34,35,36,37,38,39,40,41,42,43,44,45,46],"v":[0.75,0.76,0.76,0.77,0.78,0.79,0.8,0.8,0.81,0.82,0.83,0.83,0.84,0.84,0.85,0.85,0.86,0.86,0.87,0.87,0.87,0.87,0.87,0.87,0.87,0.87,0.87,0.87,0.87,0.86,0.86,0.85,0.85,0.84,0.84,0.83,0.83,0.82,0.81,0.8,0.8,0.79,0.78,0.77,0.76,0.76,0.75]},
      {"y":30,"x":[0,1,2,3,4,5,6,7,8,9,10,11,12,13,14,15,16,17,18,19,20,21,22,23,24,25,26,27,28,29,30,31,32,33,34,35,36,37,38,39,40,41,42,43,44,45,46],"v":[0.74,0.75,0.76,0.77,0.77,0.78,0.79,0.8,0.8,0.81,0.82,0.82,0.83,0.84,0.84,0.85,0.85,0.85,0.86,0.86,0.86,0.86,0.86,0.86,0.86,0.86,0.86,0.86,0.86,0.85,0.85,0.85,0.84,0.84,0.83,0.82,0.82,0.81,0.8,0.8,0.79,0.78,0.77,0.77,0.76,0.75,0.74]}
    ]
  },
  "hconcat": [
    {
      "title": "RASA8 ha 3nm",
      "data": {"name": "rasa8"},
      "transform": [{"flatten": ["x", "v"]}],
      "width": 365,
      "height": 241,
      "mark": {"type": "rect", "width": {"band": 1.08}, "height": {"band": 1.08}, "clip": true},
      "encoding": {
        "x": {"field": "x", "type": "ordinal", "scale": {"paddingInner": 0, "paddingOuter": 0}, "axis": {"values": [0, 10, 20, 30, 40], "labelAngle": 0, "title": null}},
        "y": {"field": "y", "type": "ordinal", "scale": {"paddingInner": 0, "paddingOuter": 0}, "axis": {"values": [0, 5, 10, 15, 20, 25, 30], "title": null}},
        "color": {
          "field": "v", "type": "quantitative",
          "scale": {"scheme": "cividis", "domain": [0.5, 1]},
          "legend": {"type": "gradient", "orient": "none", "legendX": 388, "legendY": -42, "direction": "vertical", "gradientLength": 326, "gradientThickness": 16, "values": [0.5, 0.6, 0.7, 0.8, 0.9, 1], "format": ".1f", "title": null, "labelFontSize": 16.2, "labelColor": "black", "labelOffset": 7, "labelOverlap": false, "gradientStrokeColor": "black", "gradientStrokeWidth": 0.8, "padding": 0, "encode": {"labels": {"update": {"baseline": {"value": "middle"}}}}}
        }
      }
    },
    {
      "title": "RASA8 No C.O. ha 3nm",
      "data": {"name": "rasa8_noco"},
      "transform": [{"flatten": ["x", "v"]}],
      "width": 365,
      "height": 241,
      "mark": {"type": "rect", "width": {"band": 1.08}, "height": {"band": 1.08}, "clip": true},
      "encoding": {
        "x": {"field": "x", "type": "ordinal", "scale": {"paddingInner": 0, "paddingOuter": 0}, "axis": {"values": [0, 10, 20, 30, 40], "labelAngle": 0, "title": null}},
        "y": {"field": "y", "type": "ordinal", "scale": {"paddingInner": 0, "paddingOuter": 0}, "axis": {"values": [0, 5, 10, 15, 20, 25, 30], "title": null}},
        "color": {
          "field": "v", "type": "quantitative",
          "scale": {"scheme": "cividis", "domain": [0.5, 1]},
          "legend": {"type": "gradient", "orient": "none", "legendX": 388, "legendY": -42, "direction": "vertical", "gradientLength": 326, "gradientThickness": 16, "values": [0.5, 0.6, 0.7, 0.8, 0.9, 1], "format": ".1f", "title": null, "labelFontSize": 16.2, "labelColor": "black", "labelOffset": 7, "labelOverlap": false, "gradientStrokeColor": "black", "gradientStrokeWidth": 0.8, "padding": 0, "encode": {"labels": {"update": {"baseline": {"value": "middle"}}}}}
        }
      }
    }
  ],
  "spacing": 80,
  "resolve": {"scale": {"color": "independent"}}
}
